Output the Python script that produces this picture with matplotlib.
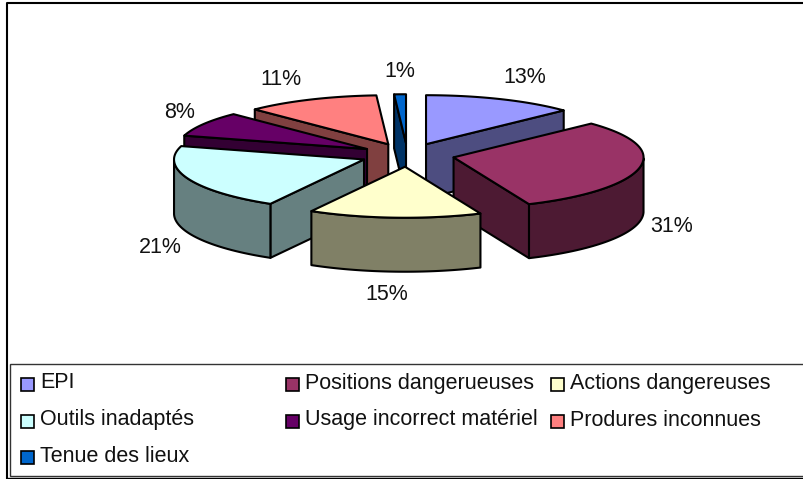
import numpy as np
import matplotlib
matplotlib.use("Agg")
import matplotlib.pyplot as plt
from matplotlib.patches import Polygon, Rectangle

plt.rcParams['font.family'] = ['Liberation Sans', 'DejaVu Sans']

categories = ["EPI", "Positions dangerueuses", "Actions dangereuses", "Outils inadaptés",
              "Usage incorrect matériel", "Produres inconnues", "Tenue des lieux"]
values = [12.9, 30.6, 14.7, 21.2, 8.2, 11.4, 1.0]
top_colors = ["#9999FF", "#993366", "#FFFFCC", "#CCFFFF", "#660066", "#FF8080", "#0066CC"]
side_colors = ["#4D4D80", "#4D1A33", "#808066", "#668080", "#330033", "#804040", "#003366"]
label_pos = [(525, 77), (672, 226), (387, 294), (160, 247), (180, 112), (281, 79), (400, 71)]
legend_cells = [(20, 383), (285, 383), (550, 383), (20, 420), (285, 420), (550, 420), (20, 456)]
draw_order = [5, 4, 6, 0, 3, 1, 2]

CX, CY = 407.5, 155
RX, RY_BACK, RY_FRONT = 190, 49, 51
DEPTH = 54
EXPLODE = 47
TILT = 0.25
LW = 1.5
FS = 15.5

fig = plt.figure(figsize=(8.04, 4.79), dpi=100)
ax = fig.add_axes([0, 0, 1, 1])
ax.set_xlim(0, 804)
ax.set_ylim(479, 0)
ax.axis("off")

ax.plot([7, 7, 804], [479, 3, 3], color="black", lw=1.5, zorder=1)
ax.plot([7, 804], [477.5, 477.5], color="black", lw=1, zorder=1)
ax.add_patch(Rectangle((10, 364), 800, 112, fc="white", ec="#333333", lw=1, zorder=2))

fracs = np.array(values) / sum(values)
edges = np.concatenate([[0], np.cumsum(fracs)]) * 2 * np.pi


def rim(a, ox, oy):
    c = np.cos(a)
    ry = np.where(c > 0, RY_BACK, RY_FRONT)
    return np.column_stack([ox + RX * np.sin(a), oy - ry * c])


z = 3
for i in draw_order:
    a0, a1 = edges[i], edges[i + 1]
    mid = (a0 + a1) / 2
    ox = CX + EXPLODE * np.sin(mid)
    oy = CY - EXPLODE * TILT * np.cos(mid)
    apex = np.array([ox, oy])
    low = np.array([0, DEPTH])
    arc = np.linspace(a0, a1, 80)
    walls = []
    if np.sin(a0) < 0:
        p = rim(np.array([a0]), ox, oy)[0]
        walls.append(np.array([apex, p, p + low, apex + low]))
    if np.sin(a1) > 0:
        p = rim(np.array([a1]), ox, oy)[0]
        walls.append(np.array([apex, p, p + low, apex + low]))
    front = arc[np.cos(arc) < 0]
    if len(front) > 1:
        r = rim(front, ox, oy)
        walls.append(np.vstack([r, (r + low)[::-1]]))
    for w in walls:
        ax.add_patch(Polygon(w, closed=True, fc=side_colors[i], ec="black", lw=LW,
                             joinstyle="round", zorder=z))
        z += 1
    ax.add_patch(Polygon(np.vstack([apex, rim(arc, ox, oy)]), closed=True, fc=top_colors[i],
                         ec="black", lw=LW, joinstyle="round", zorder=z))
    z += 1

for v, (x, y) in zip(values, label_pos):
    ax.text(x, y, f"{v:.0f}%", ha="center", va="center", fontsize=FS, color="#111111", zorder=z)

for name, col, (x, y) in zip(categories, top_colors, legend_cells):
    ax.add_patch(Rectangle((x + 1, y - 5), 13, 13, fc=col, ec="black", lw=1.2, zorder=z))
    ax.text(x + 20, y, name, ha="left", va="center", fontsize=FS, color="#111111", zorder=z)

fig.savefig("out.png", dpi=100)
